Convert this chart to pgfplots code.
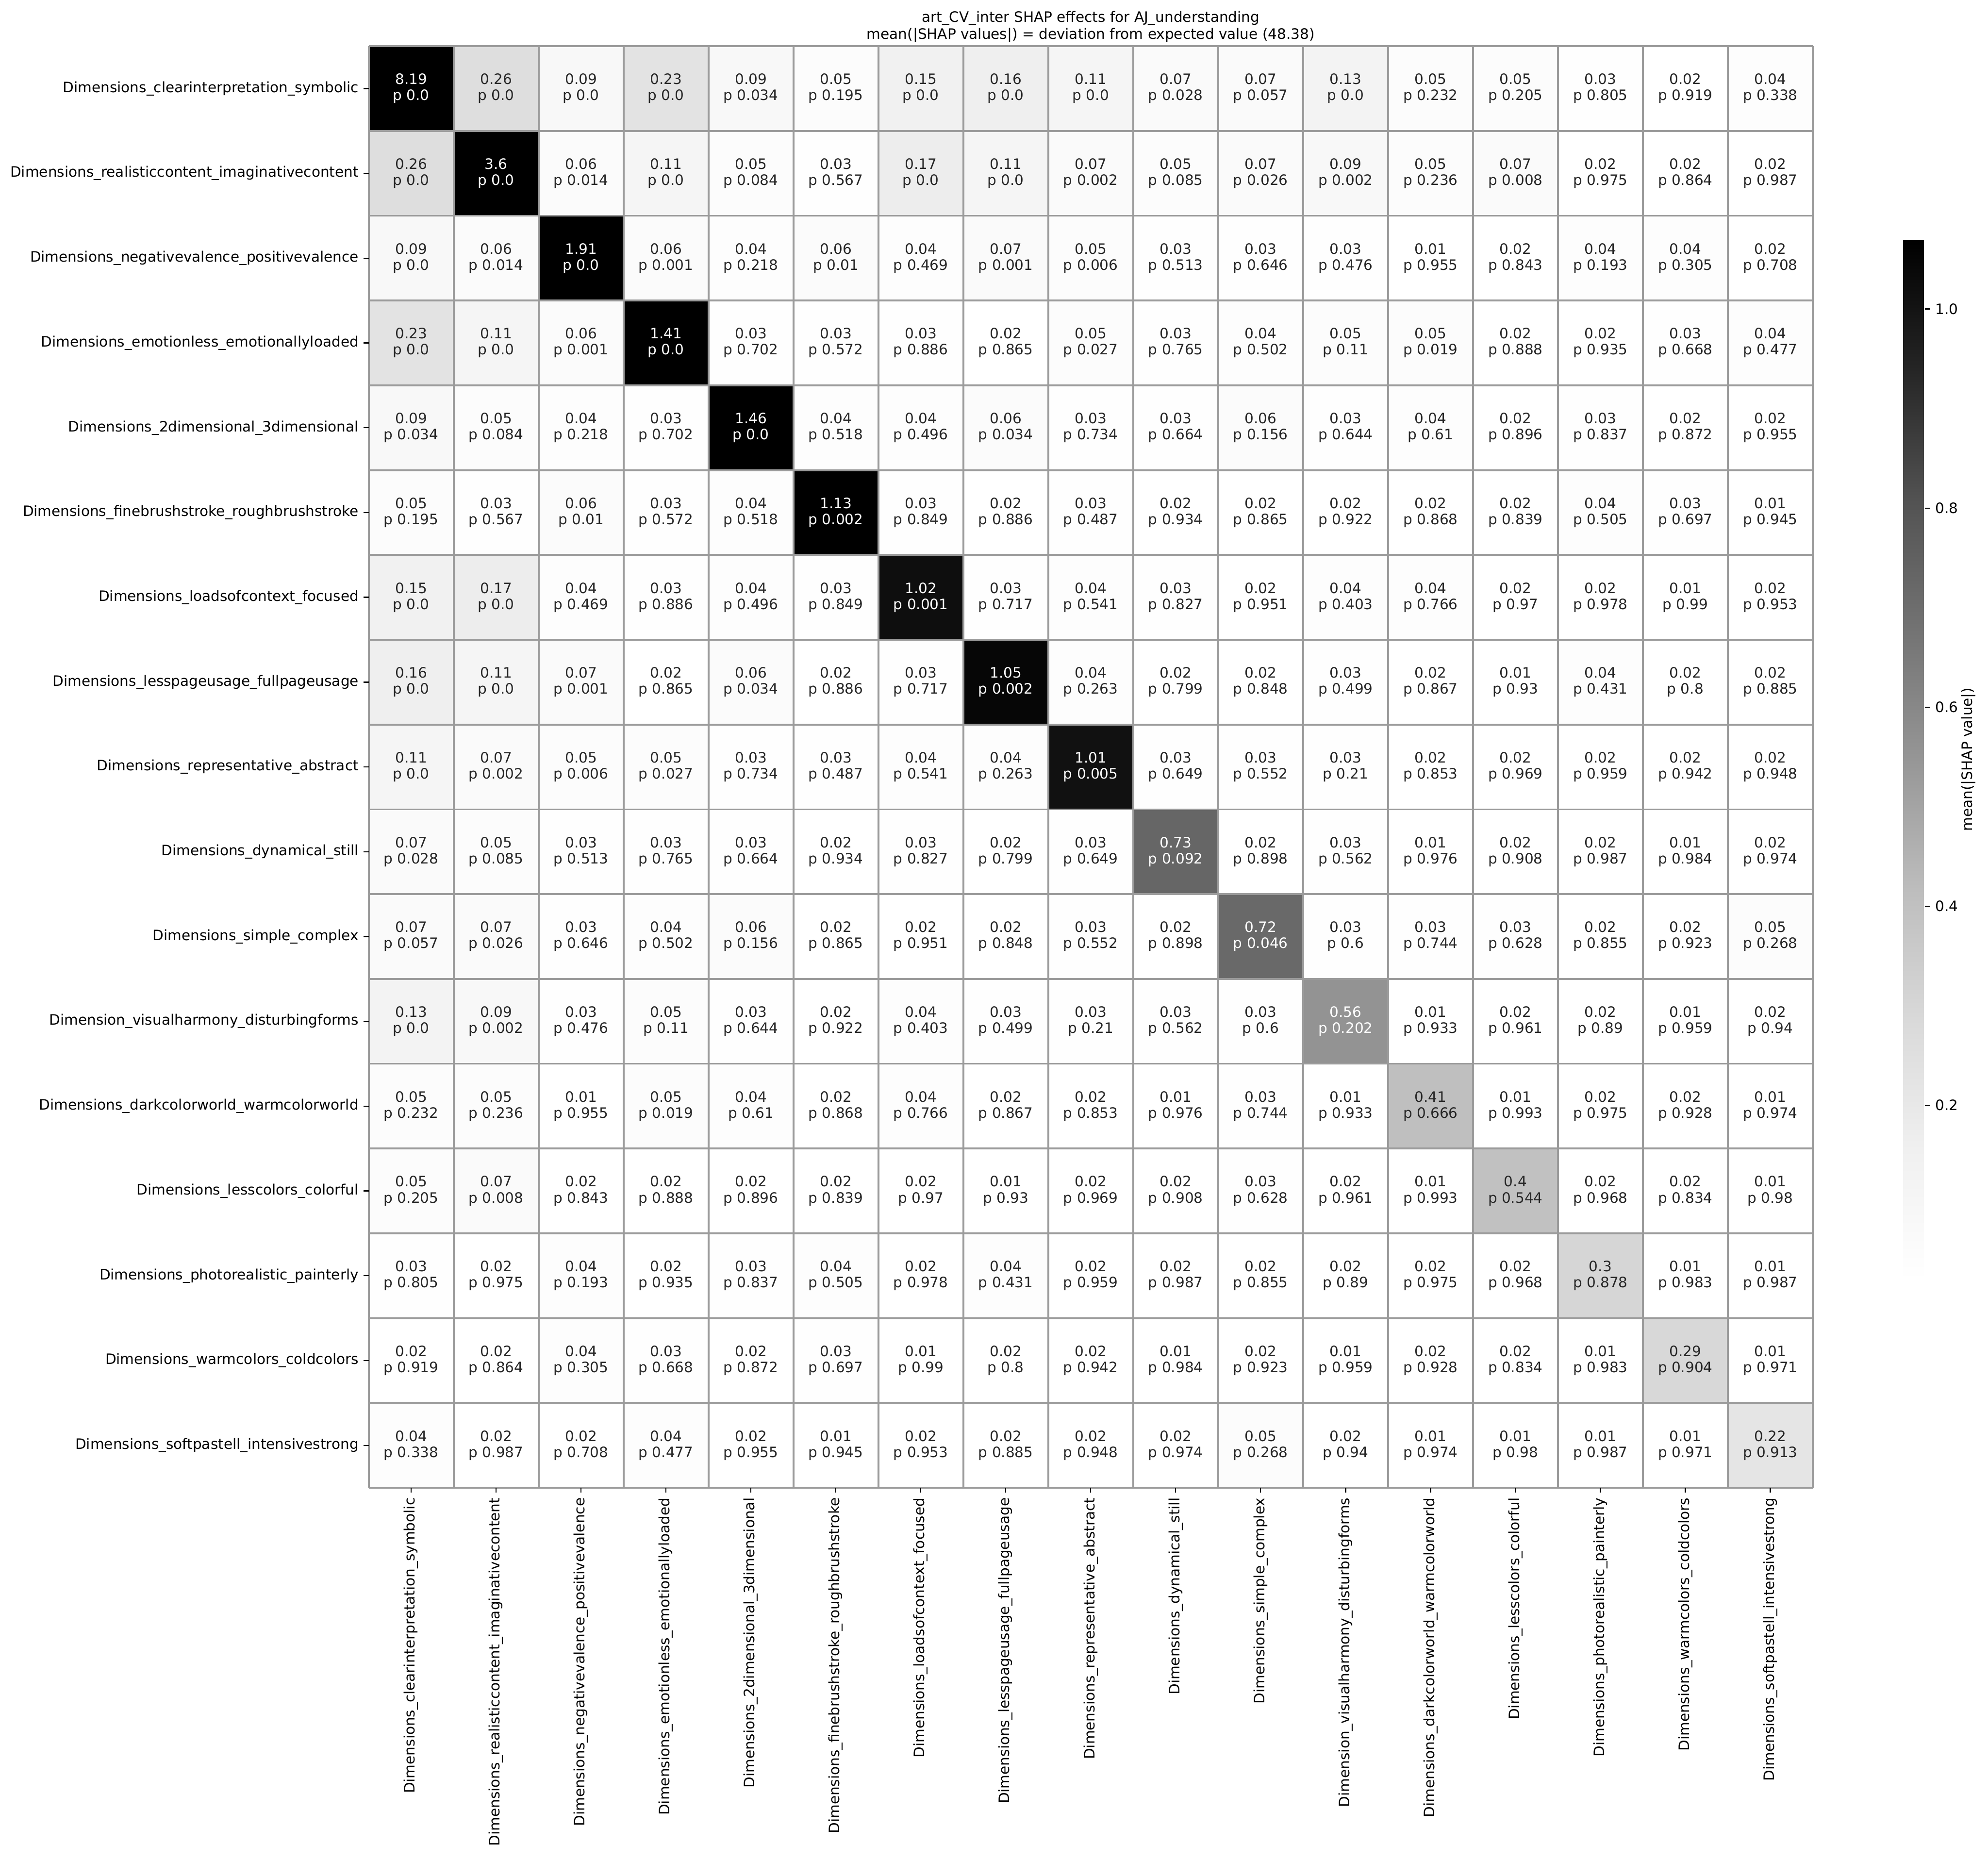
\documentclass[border=0pt]{standalone}
\usepackage{pgfplots}
\pgfplotsset{compat=1.18}
\usepackage{pgfplotstable}
\usepackage{fontspec}
\setmainfont{DejaVu Sans}
\definecolor{edgegray}{RGB}{155,155,155}
\definecolor{tk}{RGB}{38,38,38}
\definecolor{tw}{RGB}{255,255,255}
\pgfplotstableread{
x y v p w
0 0 8.19 0.0 1
1 0 0.26 0.0 0
2 0 0.09 0.0 0
3 0 0.23 0.0 0
4 0 0.09 0.034 0
5 0 0.05 0.195 0
6 0 0.15 0.0 0
7 0 0.16 0.0 0
8 0 0.11 0.0 0
9 0 0.07 0.028 0
10 0 0.07 0.057 0
11 0 0.13 0.0 0
12 0 0.05 0.232 0
13 0 0.05 0.205 0
14 0 0.03 0.805 0
15 0 0.02 0.919 0
16 0 0.04 0.338 0
0 1 0.26 0.0 0
1 1 3.6 0.0 1
2 1 0.06 0.014 0
3 1 0.11 0.0 0
4 1 0.05 0.084 0
5 1 0.03 0.567 0
6 1 0.17 0.0 0
7 1 0.11 0.0 0
8 1 0.07 0.002 0
9 1 0.05 0.085 0
10 1 0.07 0.026 0
11 1 0.09 0.002 0
12 1 0.05 0.236 0
13 1 0.07 0.008 0
14 1 0.02 0.975 0
15 1 0.02 0.864 0
16 1 0.02 0.987 0
0 2 0.09 0.0 0
1 2 0.06 0.014 0
2 2 1.91 0.0 1
3 2 0.06 0.001 0
4 2 0.04 0.218 0
5 2 0.06 0.01 0
6 2 0.04 0.469 0
7 2 0.07 0.001 0
8 2 0.05 0.006 0
9 2 0.03 0.513 0
10 2 0.03 0.646 0
11 2 0.03 0.476 0
12 2 0.01 0.955 0
13 2 0.02 0.843 0
14 2 0.04 0.193 0
15 2 0.04 0.305 0
16 2 0.02 0.708 0
0 3 0.23 0.0 0
1 3 0.11 0.0 0
2 3 0.06 0.001 0
3 3 1.41 0.0 1
4 3 0.03 0.702 0
5 3 0.03 0.572 0
6 3 0.03 0.886 0
7 3 0.02 0.865 0
8 3 0.05 0.027 0
9 3 0.03 0.765 0
10 3 0.04 0.502 0
11 3 0.05 0.11 0
12 3 0.05 0.019 0
13 3 0.02 0.888 0
14 3 0.02 0.935 0
15 3 0.03 0.668 0
16 3 0.04 0.477 0
0 4 0.09 0.034 0
1 4 0.05 0.084 0
2 4 0.04 0.218 0
3 4 0.03 0.702 0
4 4 1.46 0.0 1
5 4 0.04 0.518 0
6 4 0.04 0.496 0
7 4 0.06 0.034 0
8 4 0.03 0.734 0
9 4 0.03 0.664 0
10 4 0.06 0.156 0
11 4 0.03 0.644 0
12 4 0.04 0.61 0
13 4 0.02 0.896 0
14 4 0.03 0.837 0
15 4 0.02 0.872 0
16 4 0.02 0.955 0
0 5 0.05 0.195 0
1 5 0.03 0.567 0
2 5 0.06 0.01 0
3 5 0.03 0.572 0
4 5 0.04 0.518 0
5 5 1.13 0.002 1
6 5 0.03 0.849 0
7 5 0.02 0.886 0
8 5 0.03 0.487 0
9 5 0.02 0.934 0
10 5 0.02 0.865 0
11 5 0.02 0.922 0
12 5 0.02 0.868 0
13 5 0.02 0.839 0
14 5 0.04 0.505 0
15 5 0.03 0.697 0
16 5 0.01 0.945 0
0 6 0.15 0.0 0
1 6 0.17 0.0 0
2 6 0.04 0.469 0
3 6 0.03 0.886 0
4 6 0.04 0.496 0
5 6 0.03 0.849 0
6 6 1.02 0.001 1
7 6 0.03 0.717 0
8 6 0.04 0.541 0
9 6 0.03 0.827 0
10 6 0.02 0.951 0
11 6 0.04 0.403 0
12 6 0.04 0.766 0
13 6 0.02 0.97 0
14 6 0.02 0.978 0
15 6 0.01 0.99 0
16 6 0.02 0.953 0
0 7 0.16 0.0 0
1 7 0.11 0.0 0
2 7 0.07 0.001 0
3 7 0.02 0.865 0
4 7 0.06 0.034 0
5 7 0.02 0.886 0
6 7 0.03 0.717 0
7 7 1.05 0.002 1
8 7 0.04 0.263 0
9 7 0.02 0.799 0
10 7 0.02 0.848 0
11 7 0.03 0.499 0
12 7 0.02 0.867 0
13 7 0.01 0.93 0
14 7 0.04 0.431 0
15 7 0.02 0.8 0
16 7 0.02 0.885 0
0 8 0.11 0.0 0
1 8 0.07 0.002 0
2 8 0.05 0.006 0
3 8 0.05 0.027 0
4 8 0.03 0.734 0
5 8 0.03 0.487 0
6 8 0.04 0.541 0
7 8 0.04 0.263 0
8 8 1.01 0.005 1
9 8 0.03 0.649 0
10 8 0.03 0.552 0
11 8 0.03 0.21 0
12 8 0.02 0.853 0
13 8 0.02 0.969 0
14 8 0.02 0.959 0
15 8 0.02 0.942 0
16 8 0.02 0.948 0
0 9 0.07 0.028 0
1 9 0.05 0.085 0
2 9 0.03 0.513 0
3 9 0.03 0.765 0
4 9 0.03 0.664 0
5 9 0.02 0.934 0
6 9 0.03 0.827 0
7 9 0.02 0.799 0
8 9 0.03 0.649 0
9 9 0.73 0.092 1
10 9 0.02 0.898 0
11 9 0.03 0.562 0
12 9 0.01 0.976 0
13 9 0.02 0.908 0
14 9 0.02 0.987 0
15 9 0.01 0.984 0
16 9 0.02 0.974 0
0 10 0.07 0.057 0
1 10 0.07 0.026 0
2 10 0.03 0.646 0
3 10 0.04 0.502 0
4 10 0.06 0.156 0
5 10 0.02 0.865 0
6 10 0.02 0.951 0
7 10 0.02 0.848 0
8 10 0.03 0.552 0
9 10 0.02 0.898 0
10 10 0.72 0.046 1
11 10 0.03 0.6 0
12 10 0.03 0.744 0
13 10 0.03 0.628 0
14 10 0.02 0.855 0
15 10 0.02 0.923 0
16 10 0.05 0.268 0
0 11 0.13 0.0 0
1 11 0.09 0.002 0
2 11 0.03 0.476 0
3 11 0.05 0.11 0
4 11 0.03 0.644 0
5 11 0.02 0.922 0
6 11 0.04 0.403 0
7 11 0.03 0.499 0
8 11 0.03 0.21 0
9 11 0.03 0.562 0
10 11 0.03 0.6 0
11 11 0.56 0.202 1
12 11 0.01 0.933 0
13 11 0.02 0.961 0
14 11 0.02 0.89 0
15 11 0.01 0.959 0
16 11 0.02 0.94 0
0 12 0.05 0.232 0
1 12 0.05 0.236 0
2 12 0.01 0.955 0
3 12 0.05 0.019 0
4 12 0.04 0.61 0
5 12 0.02 0.868 0
6 12 0.04 0.766 0
7 12 0.02 0.867 0
8 12 0.02 0.853 0
9 12 0.01 0.976 0
10 12 0.03 0.744 0
11 12 0.01 0.933 0
12 12 0.41 0.666 0
13 12 0.01 0.993 0
14 12 0.02 0.975 0
15 12 0.02 0.928 0
16 12 0.01 0.974 0
0 13 0.05 0.205 0
1 13 0.07 0.008 0
2 13 0.02 0.843 0
3 13 0.02 0.888 0
4 13 0.02 0.896 0
5 13 0.02 0.839 0
6 13 0.02 0.97 0
7 13 0.01 0.93 0
8 13 0.02 0.969 0
9 13 0.02 0.908 0
10 13 0.03 0.628 0
11 13 0.02 0.961 0
12 13 0.01 0.993 0
13 13 0.4 0.544 0
14 13 0.02 0.968 0
15 13 0.02 0.834 0
16 13 0.01 0.98 0
0 14 0.03 0.805 0
1 14 0.02 0.975 0
2 14 0.04 0.193 0
3 14 0.02 0.935 0
4 14 0.03 0.837 0
5 14 0.04 0.505 0
6 14 0.02 0.978 0
7 14 0.04 0.431 0
8 14 0.02 0.959 0
9 14 0.02 0.987 0
10 14 0.02 0.855 0
11 14 0.02 0.89 0
12 14 0.02 0.975 0
13 14 0.02 0.968 0
14 14 0.3 0.878 0
15 14 0.01 0.983 0
16 14 0.01 0.987 0
0 15 0.02 0.919 0
1 15 0.02 0.864 0
2 15 0.04 0.305 0
3 15 0.03 0.668 0
4 15 0.02 0.872 0
5 15 0.03 0.697 0
6 15 0.01 0.99 0
7 15 0.02 0.8 0
8 15 0.02 0.942 0
9 15 0.01 0.984 0
10 15 0.02 0.923 0
11 15 0.01 0.959 0
12 15 0.02 0.928 0
13 15 0.02 0.834 0
14 15 0.01 0.983 0
15 15 0.29 0.904 0
16 15 0.01 0.971 0
0 16 0.04 0.338 0
1 16 0.02 0.987 0
2 16 0.02 0.708 0
3 16 0.04 0.477 0
4 16 0.02 0.955 0
5 16 0.01 0.945 0
6 16 0.02 0.953 0
7 16 0.02 0.885 0
8 16 0.02 0.948 0
9 16 0.02 0.974 0
10 16 0.05 0.268 0
11 16 0.02 0.94 0
12 16 0.01 0.974 0
13 16 0.01 0.98 0
14 16 0.01 0.987 0
15 16 0.01 0.971 0
16 16 0.22 0.913 0
}\heat
\pgfplotsset{
  celltext/.style={only marks, mark=*, mark size=0pt, mark options={draw=none,fill=none},
    point meta=explicit symbolic,
    visualization depends on={\thisrow{v}\as\vv},
    nodes near coords={\pgfmathprintnumber[fixed,precision=2,assume math mode=true]{\vv}\\p \pgfplotspointmeta},
    every node near coord/.append style={anchor=center, align=center, text=#1, font=\fontsize{10}{11.2}\selectfont, inner sep=0pt}},
}
\begin{document}
\begin{tikzpicture}
\useasboundingbox (-257.3pt,-259.7pt) rectangle (1130.1pt,1038.2pt);
\begin{axis}[
  scale only axis, width=1007.8pt, height=1006pt,
  xmin=-0.5, xmax=16.5, ymin=-0.5, ymax=16.5,
  xtick={0,...,16}, ytick={0,...,16},
  xticklabels={Dimensions\_clearinterpretation\_symbolic,Dimensions\_realisticcontent\_imaginativecontent,Dimensions\_negativevalence\_positivevalence,Dimensions\_emotionless\_emotionallyloaded,Dimensions\_2dimensional\_3dimensional,Dimensions\_finebrushstroke\_roughbrushstroke,Dimensions\_loadsofcontext\_focused,Dimensions\_lesspageusage\_fullpageusage,Dimensions\_representative\_abstract,Dimensions\_dynamical\_still,Dimensions\_simple\_complex,Dimension\_visualharmony\_disturbingforms,Dimensions\_darkcolorworld\_warmcolorworld,Dimensions\_lesscolors\_colorful,Dimensions\_photorealistic\_painterly,Dimensions\_warmcolors\_coldcolors,Dimensions\_softpastell\_intensivestrong},
  yticklabels={Dimensions\_softpastell\_intensivestrong,Dimensions\_warmcolors\_coldcolors,Dimensions\_photorealistic\_painterly,Dimensions\_lesscolors\_colorful,Dimensions\_darkcolorworld\_warmcolorworld,Dimension\_visualharmony\_disturbingforms,Dimensions\_simple\_complex,Dimensions\_dynamical\_still,Dimensions\_representative\_abstract,Dimensions\_lesspageusage\_fullpageusage,Dimensions\_loadsofcontext\_focused,Dimensions\_finebrushstroke\_roughbrushstroke,Dimensions\_2dimensional\_3dimensional,Dimensions\_emotionless\_emotionallyloaded,Dimensions\_negativevalence\_positivevalence,Dimensions\_realisticcontent\_imaginativecontent,Dimensions\_clearinterpretation\_symbolic},
  xticklabel style={rotate=90, anchor=east, font=\fontsize{10}{12}\selectfont},
  yticklabel style={font=\fontsize{10}{12}\selectfont},
  xtick pos=bottom, ytick pos=left,
  tick align=outside, major tick length=3.5pt,
  tick style={color=black, line width=0.8pt},
  minor xtick={-0.5,0.5,...,16.5}, minor ytick={-0.5,0.5,...,16.5},
  minor tick length=0pt,
  xminorgrids, yminorgrids,
  minor grid style={color=edgegray, line width=1.3pt},
  axis line style={draw=none},
  axis on top,
  colormap={mplgreys}{rgb255=(255,255,255) rgb255=(240,240,240) rgb255=(217,217,217) rgb255=(189,189,189) rgb255=(150,150,150) rgb255=(115,115,115) rgb255=(82,82,82) rgb255=(37,37,37) rgb255=(0,0,0)},
  point meta min=0.025, point meta max=1.07,
  colorbar,
  colorbar style={
    at={(parent axis.north east)}, anchor=north west,
    xshift=54.7pt, yshift=-134.8pt,
    scale only axis, width=14.9pt, height=725.8pt,
    axis line style={draw=none},
    ytick={0.2,0.4,0.6,0.8,1.0},
    ytick pos=right, yticklabel pos=right,
    tick align=outside, major tick length=3.8pt,
    tick style={color=black, line width=0.8pt},
    yticklabel style={font=\fontsize{10}{12}\selectfont, /pgf/number format/.cd, fixed, fixed zerofill, precision=1, assume math mode=true},
    ylabel={mean(|SHAP value|)},
    ylabel style={font=\fontsize{10}{12}\selectfont, yshift=4.6pt},
  },
  title={art\_CV\_inter SHAP effects for AJ\_understanding\\mean(|SHAP values|) = deviation from expected value (48.38)},
  title style={align=center, font=\fontsize{10}{11.9}\selectfont, yshift=-7pt},
]
\addplot[matrix plot*, mesh/cols=17, point meta=explicit] table[x=x, y expr=16-\thisrow{y}, meta=v]{\heat};
\addplot[celltext=tk] table[x=x, y expr={\thisrow{w}==0 ? 16-\thisrow{y} : nan}, meta=p]{\heat};
\addplot[celltext=tw] table[x=x, y expr={\thisrow{w}==1 ? 16-\thisrow{y} : nan}, meta=p]{\heat};
\end{axis}
\end{tikzpicture}
\end{document}
